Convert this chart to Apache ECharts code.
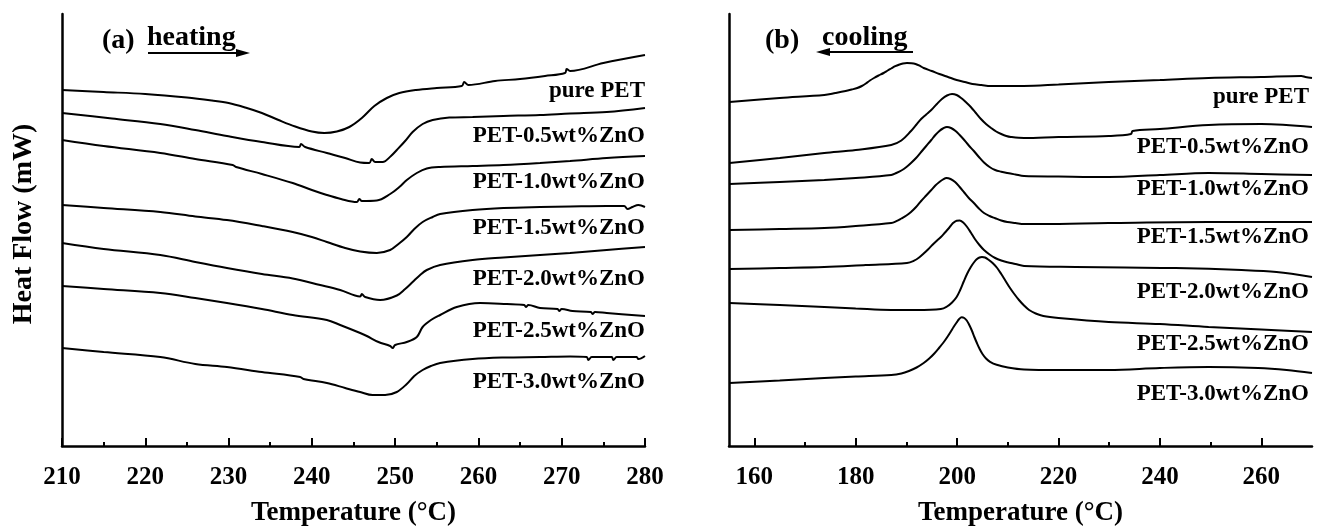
<!DOCTYPE html>
<html>
<head>
<meta charset="utf-8">
<script src="https://cdn.jsdelivr.net/npm/echarts@6/dist/echarts.min.js"></script>
<style>
html,body{margin:0;padding:0;background:#fff;}
#chart{width:1320px;height:528px;}
</style>
</head>
<body>
<div id="chart"></div>
<script>
// ---- DATA (temperature in °C, heat flow in arbitrary offset units) ----
var sampleNames = ['pure PET','PET-0.5wt%ZnO','PET-1.0wt%ZnO','PET-1.5wt%ZnO','PET-2.0wt%ZnO','PET-2.5wt%ZnO','PET-3.0wt%ZnO'];

var heatTicks = [210,220,230,240,250,260,270,280];
var coolTicks = [160,180,200,220,240,260];
var coolMinorTicks = [170,190,210,230,250];

// (a) heating curves
var heatPure = [[210,356],[215,354],[220,352],[225,348.5],[228,345.5],[230,343],[232,338.5],[234,333],[236,326],[238,319.5],[240,314.5],[241.5,313],[243,314.5],[244.5,319],[246,328],[247.5,340],[249,348],[250.5,353],[252.5,356],[255,358],[258,360],[258.3,364],[258.8,361],[262,365],[265,367],[268,370],[270.4,373],[270.6,377],[271,375],[275,383],[280,391]];
var heat05 = [[210,333],[216,327.5],[221.8,322],[226,316],[229.8,310],[234,304],[238.5,299],[238.7,302],[239.2,299],[241.8,293],[244,288],[245.8,283.5],[246.9,283],[247.2,287],[247.6,284],[248.5,284],[249.5,290],[250.2,296],[251.2,305],[252.1,314],[253.3,322],[254.5,326],[256.5,328.5],[259.3,329],[263,330],[267.4,331],[271,332.5],[275.4,334],[280,338]];
var heat10 = [[210,306],[215,300],[221.8,293],[226,287],[230.5,281],[230.9,279],[234,272],[237.7,263],[240,256],[241.8,251],[243.5,247],[245.4,244],[245.7,247],[246,245],[247.8,245.5],[249.4,252],[250.5,259],[251.4,266],[252.6,273],[253.8,277.5],[255.4,279],[259.3,280],[263,281],[267.4,283],[271,285],[275.4,288],[280,290]];
var heat15 = [[210,241],[215,238],[221.8,234],[226,229.5],[229.8,226],[234,220],[237.7,214],[240,209],[241.8,204],[244,198],[245.8,194.5],[247.8,193],[249.4,196],[250.4,202],[251.4,209],[252.3,217],[253.3,224],[254.5,229],[255.4,232],[259.3,236],[263,238],[267.4,239],[271,239.5],[275.4,240],[277.5,240],[277.9,237],[278.5,239],[279.2,241],[280,239]];
var heat20 = [[210,203],[215,197],[221.8,191],[226,184],[229.8,178],[234,172],[237.7,167.5],[241,161],[243.4,156],[245.8,149.5],[246,152],[246.4,149],[248.2,146],[250.2,150.5],[251.2,157],[252.1,164],[253,171],[253.8,176],[255.4,181],[259.3,186],[263,188.5],[267.4,191],[271,193],[275.4,196],[280,199]];
var heat25 = [[210,160],[215,157],[221.8,153],[226,148],[229.8,143],[234,137],[237.7,131],[241.8,126],[243.4,121],[245.8,113],[246.6,110],[248,104],[249.4,100],[249.7,98],[250,101],[251.4,104],[252.6,109],[253.3,119],[254.3,126],[255.4,131],[257.4,139],[260.2,143],[263.4,142],[265.5,141],[265.7,139],[266,141],[267.4,138],[269.5,137],[269.7,135],[270,137],[271.3,135],[273.5,134],[273.7,132],[274,134],[275.4,133],[280,130]];
var heat30 = [[210,98],[215,94],[221.8,89],[226,82],[229.8,79],[234,74],[238.6,69],[239,67],[241.8,63],[244,58],[245.8,54],[247.3,51],[248.8,51],[250.2,54],[251.4,62],[252.3,70],[253.3,76],[254.3,80],[255.4,83],[259.3,87],[263,88.5],[267.4,89],[271,89.5],[273,89],[273.2,86],[273.6,89],[276,89],[276.2,86],[276.6,89],[279,89],[279.2,87],[280,90]];

// (b) cooling curves
var coolPure = [[155.1,344],[165,348],[173.8,351],[176,353],[178,355],[179.2,356.5],[180.3,358],[181.2,360],[182,362.5],[182.8,365.5],[183.6,368],[184.5,370.5],[185.5,373],[186.3,375.5],[187,377.5],[187.8,379.8],[188.5,381.3],[189.3,382.5],[190.1,383],[191,382.8],[191.8,382],[192.6,380.3],[193.4,378],[195,375],[196.5,372],[198.2,369],[199.9,366],[201.5,364],[203,362],[204.8,361],[206.6,360],[213.1,360],[220,361.5],[229.9,364],[240,366],[249.6,368],[260,369],[267.9,370],[268.7,369],[270,368]];
var cool05 = [[155.1,283],[165,288],[173.8,293],[180,296],[187,301],[189,305.5],[190.9,315],[191.9,321],[192.9,327],[193.9,331.5],[194.9,336],[196,342],[197,347],[198,350.5],[199,352],[199.9,351],[200.8,348],[201.7,344],[202.7,339],[203.7,333],[204.7,327],[205.7,322],[206.7,318],[207.7,314.5],[208.7,312],[209.7,310],[210.6,309],[213.2,308],[220,309],[229.9,310],[234.3,312],[234.6,315],[240,317],[249.6,321],[260,322],[270,319]];
var cool10 = [[155.1,262],[165,264],[173.8,266],[180,268],[187,271],[188,273],[189,275.5],[190,279],[190.9,283],[191.9,288],[192.9,294],[193.9,300],[194.9,306],[195.7,311],[196.5,315],[197.2,317.5],[198,319],[198.8,318],[199.7,315],[200.5,311],[201.4,306],[202.3,300.5],[203.3,295],[204.3,289],[205.3,283.5],[206.4,279],[207.5,276],[208.7,274.3],[209.9,273],[211.5,271.5],[213.2,270],[220,269.5],[229.9,269],[240,271],[249.6,273],[260,272],[270,271]];
var cool15 = [[155.1,216],[165,217],[173.8,218],[180,220],[187,223],[188,224.8],[189,227.5],[190,230.5],[190.9,234],[191.9,239],[192.9,245],[193.9,250.5],[194.9,256],[195.7,260.5],[196.5,264],[197.2,266.5],[197.9,268],[198.7,267],[199.6,264],[200.5,259],[201.4,253.5],[202.3,248],[203.3,243],[204.3,237.5],[205.3,233],[206.4,230],[207.5,227.8],[208.7,225.5],[209.9,224],[211.5,223],[213.2,222],[216.7,222],[229.9,223],[249.6,224],[270,224]];
var cool20 = [[155.1,177],[165,178],[173.8,179],[182,181],[190.1,183],[191.5,185.3],[192.5,188.5],[193.4,192.5],[194.3,196.8],[195.1,201],[196,205.3],[196.8,209],[197.6,213.5],[198.4,218],[199.1,222.5],[199.9,225.3],[200.5,225.5],[201.2,223.5],[201.9,219.5],[202.7,213.5],[203.5,207],[204.4,201],[205.3,196],[206.4,191.5],[207.5,188],[208.7,185.5],[209.9,183.8],[211.5,182],[213.2,180],[223.4,179],[233,178.5],[243.1,178],[256.1,176],[263,174],[270,169]];
var cool25 = [[155.1,143],[165,141],[173.8,139],[180,137.5],[187,136],[192,136],[196.8,137],[198,139.5],[199,143.5],[199.9,149],[200.6,156],[201.3,164.5],[202,172.5],[202.7,179],[203.3,183.5],[203.8,186.5],[204.4,188.5],[204.9,189],[205.5,188.5],[206.2,186.3],[207,183],[207.9,178],[208.7,172],[209.5,165.5],[210.3,159],[211.2,152.5],[212.2,146],[213.2,140.5],[214.2,136],[215.5,132.5],[217,130],[220,128],[229.9,124],[240,122],[249.6,119],[260,116.5],[270,114]];
var cool30 = [[155.1,63],[165,65.5],[173.8,68],[180,69.5],[187,71],[189,72.5],[190.5,75],[192,78.5],[193.4,83],[194.5,87.5],[195.5,92.5],[196.5,98.5],[197.3,103.5],[198,108.5],[198.7,114],[199.3,119],[199.9,123.5],[200.4,127],[200.9,128.7],[201.4,128],[201.9,125.5],[202.4,121],[202.9,115.5],[203.4,109],[203.9,103],[204.4,97.5],[205,92],[205.7,87.5],[206.5,84.2],[207.8,81.2],[210,78.5],[213.2,76.5],[220,76],[229.9,76],[240,78],[249.6,79],[259.4,78],[265,76],[270,73]];

var heatSeries = [heatPure, heat05, heat10, heat15, heat20, heat25, heat30];
var coolSeries = [coolPure, cool05, cool10, cool15, cool20, cool25, cool30];

// ---- label placement (layout, not data) ----
var heatLabelY = [91,136,182,228,279,331,382];
var coolLabelY = [97,147,189,237,292,344,394];

var SERIF = "'Liberation Serif','Times New Roman',serif";
var chart = echarts.init(document.getElementById('chart'));

var series = [];
heatSeries.forEach(function(d, i){
  series.push({type:'line', name:'heat '+sampleNames[i], xAxisIndex:0, yAxisIndex:0, data:d,
    showSymbol:false, smooth:0.35, lineStyle:{color:'#000', width:2}, silent:true});
});
coolSeries.forEach(function(d, i){
  series.push({type:'line', name:'cool '+sampleNames[i], xAxisIndex:1, yAxisIndex:1, data:d,
    showSymbol:false, smooth:0.35, lineStyle:{color:'#000', width:2}, silent:true});
});

var graphics = [];
sampleNames.forEach(function(n, i){
  graphics.push({type:'text', x:645, y:heatLabelY[i], style:{text:n, fill:'#000',
    font:'bold 23px '+SERIF, textAlign:'right', textVerticalAlign:'middle'}});
  graphics.push({type:'text', x:1309, y:coolLabelY[i], style:{text:n, fill:'#000',
    font:'bold 23px '+SERIF, textAlign:'right', textVerticalAlign:'middle'}});
});
graphics.push(
  {type:'text', x:102, y:41, style:{text:'(a)', fill:'#000', font:'bold 28px '+SERIF, textVerticalAlign:'middle'}},
  {type:'text', x:147, y:38, style:{text:'heating', fill:'#000', font:'bold 28px '+SERIF, textVerticalAlign:'middle'}},
  {type:'line', shape:{x1:148, y1:53, x2:240, y2:53}, style:{stroke:'#000', lineWidth:2}},
  {type:'polygon', shape:{points:[[236,49],[250,53],[236,57]]}, style:{fill:'#000'}},
  {type:'text', x:765, y:41, style:{text:'(b)', fill:'#000', font:'bold 28px '+SERIF, textVerticalAlign:'middle'}},
  {type:'text', x:822, y:38, style:{text:'cooling', fill:'#000', font:'bold 28px '+SERIF, textVerticalAlign:'middle'}},
  {type:'line', shape:{x1:826, y1:52, x2:913, y2:52}, style:{stroke:'#000', lineWidth:2}},
  {type:'polygon', shape:{points:[[830,48],[816,52],[830,56]]}, style:{fill:'#000'}},
  {type:'text', x:24, y:224, rotation:Math.PI/2, style:{text:'Heat Flow (mW)', fill:'#000', font:'bold 28px '+SERIF, textAlign:'center', textVerticalAlign:'middle'}}
);

var axisLabelStyle = {color:'#000', fontFamily:SERIF, fontWeight:'bold', fontSize:25, margin:19};
var nameStyle = {color:'#000', fontFamily:SERIF, fontWeight:'bold', fontSize:27};

var option = {
  animation:false,
  backgroundColor:'#fff',
  grid:[
    {left:62, right:675, top:14, bottom:82, outerBoundsMode:'none', containLabel:false},
    {left:729, right:8, top:14, bottom:82, outerBoundsMode:'none', containLabel:false}
  ],
  xAxis:[
    {gridIndex:0, type:'value', min:210, max:280, interval:10, position:'bottom',
      axisLine:{show:true, lineStyle:{color:'#000', width:2.5}},
      axisTick:{show:true, inside:true, length:8, lineStyle:{color:'#000', width:2}},
      minorTick:{show:true, splitNumber:2, length:4, lineStyle:{color:'#000', width:2}},
      splitLine:{show:false}, minorSplitLine:{show:false},
      axisLabel:Object.assign({customValues:heatTicks}, axisLabelStyle),
      name:'Temperature (°C)', nameLocation:'middle', nameGap:54, nameTextStyle:nameStyle},
    {gridIndex:1, type:'value', min:155, max:270, position:'bottom',
      axisLine:{show:true, lineStyle:{color:'#000', width:2.5}},
      axisTick:{show:true, inside:true, length:8, customValues:coolTicks, lineStyle:{color:'#000', width:2}},
      splitLine:{show:false},
      axisLabel:Object.assign({customValues:coolTicks}, axisLabelStyle),
      name:'Temperature (°C)', nameLocation:'middle', nameGap:54, nameTextStyle:nameStyle},
    {gridIndex:1, type:'value', min:155, max:270, position:'bottom',
      axisLine:{show:false},
      axisTick:{show:true, inside:true, length:4, customValues:coolMinorTicks, lineStyle:{color:'#000', width:2}},
      splitLine:{show:false}, axisLabel:{show:false}}
  ],
  yAxis:[
    {gridIndex:0, type:'value', min:0, max:432, axisLine:{show:true, lineStyle:{color:'#000', width:2.5}},
      axisTick:{show:false}, axisLabel:{show:false}, splitLine:{show:false}},
    {gridIndex:1, type:'value', min:0, max:432, axisLine:{show:true, lineStyle:{color:'#000', width:2.5}},
      axisTick:{show:false}, axisLabel:{show:false}, splitLine:{show:false}}
  ],
  series:series,
  graphic:graphics
};
chart.setOption(option);
</script>
</body>
</html>
